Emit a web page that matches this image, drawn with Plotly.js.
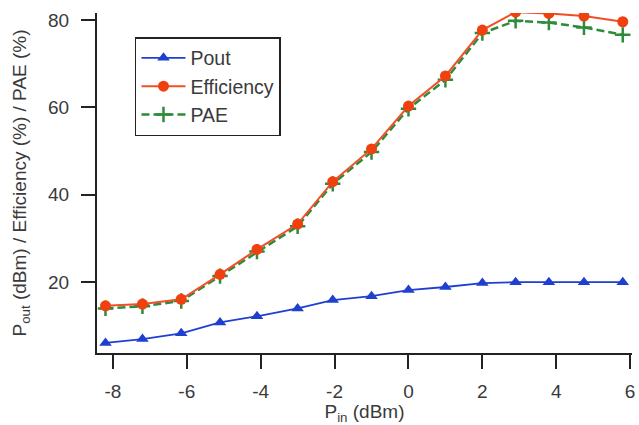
<!DOCTYPE html>
<html>
<head>
<meta charset="utf-8">
<script src="https://cdn.plot.ly/plotly-3.0.1.min.js"></script>
<style>html,body{margin:0;padding:0;background:#fff;}#chart{width:639px;height:425px;}</style>
</head>
<body>
<div id="chart"></div>
<script>
const pin = [-8.2, -7.2, -6.15, -5.1, -4.1, -3.0, -2.05, -1.0, 0.0, 1.0, 2.0, 2.9, 3.8, 4.75, 5.8];
const pout = [6.1, 7.0, 8.3, 10.8, 12.2, 14.0, 15.9, 16.8, 18.2, 18.9, 19.8, 20.0, 20.0, 20.0, 20.0];
const efficiency = [14.6, 15.0, 16.1, 21.8, 27.5, 33.3, 43.0, 50.5, 60.3, 67.2, 77.7, 81.8, 81.5, 80.9, 79.6];
const pae = [14.0, 14.5, 15.7, 21.4, 27.0, 32.8, 42.5, 49.8, 59.7, 66.3, 77.0, 79.8, 79.4, 78.3, 76.6];

const xTicks = [-8, -6, -4, -2, 0, 2, 4, 6];
const yTicks = [20, 40, 60, 80];

const traces = [
  {x: pin, y: pout, name: 'Pout', mode: 'lines+markers', legendrank: 1,
   line: {color: '#1f3fd0', width: 1.8},
   marker: {symbol: 'triangle-up', size: 11, color: '#1f3fd0'}},
  {x: pin, y: pae, name: 'PAE', mode: 'lines+markers', legendrank: 3,
   line: {color: '#2e8b3a', width: 2.5, dash: '8px,4px'},
   marker: {symbol: 'cross-thin', size: 11, line: {color: '#2e8b3a', width: 2.5}}},
  {x: pin, y: efficiency, name: 'Efficiency', mode: 'lines+markers', legendrank: 2,
   line: {color: '#f05028', width: 2},
   marker: {symbol: 'circle', size: 11, color: '#f0400f'}}
];

const font = {family: 'Liberation Sans, Arial, sans-serif', size: 19, color: '#3a3a3a'};

const layout = {
  width: 639, height: 425,
  margin: {l: 97, r: 7, t: 13, b: 72},
  paper_bgcolor: '#fff', plot_bgcolor: '#fff',
  font: font,
  showlegend: true,
  legend: {x: 0.071, y: 0.929, xanchor: 'left', yanchor: 'top',
    bordercolor: '#222', borderwidth: 1.5, bgcolor: '#fff',
    font: {family: 'Liberation Sans, Arial, sans-serif', size: 19.5, color: '#3a3a3a'},
    tracegroupgap: 0, itemwidth: 44},
  xaxis: {
    range: [-8.43, 6.05], tickvals: xTicks, ticktext: xTicks.map(String),
    showgrid: false, zeroline: false, showline: true, linecolor: '#222', linewidth: 2,
    ticks: 'outside', ticklen: 14, tickwidth: 2, tickcolor: '#222', ticklabelstandoff: 6,
    tickfont: font,
    title: {text: 'P<sub>in</sub> (dBm)', font: font, standoff: 0}
  },
  yaxis: {
    range: [3.8, 81.6], tickvals: yTicks, ticktext: yTicks.map(String),
    showgrid: false, zeroline: false, showline: true, linecolor: '#222', linewidth: 2,
    ticks: 'outside', ticklen: 14, tickwidth: 2, tickcolor: '#222', ticklabelstandoff: 8,
    tickfont: font,
    title: {text: 'P<sub>out</sub> (dBm) / Efficiency (%) / PAE (%)', font: font, standoff: 16}
  }
};

Plotly.newPlot('chart', traces, layout, {displayModeBar: false, staticPlot: true});
</script>
</body>
</html>
